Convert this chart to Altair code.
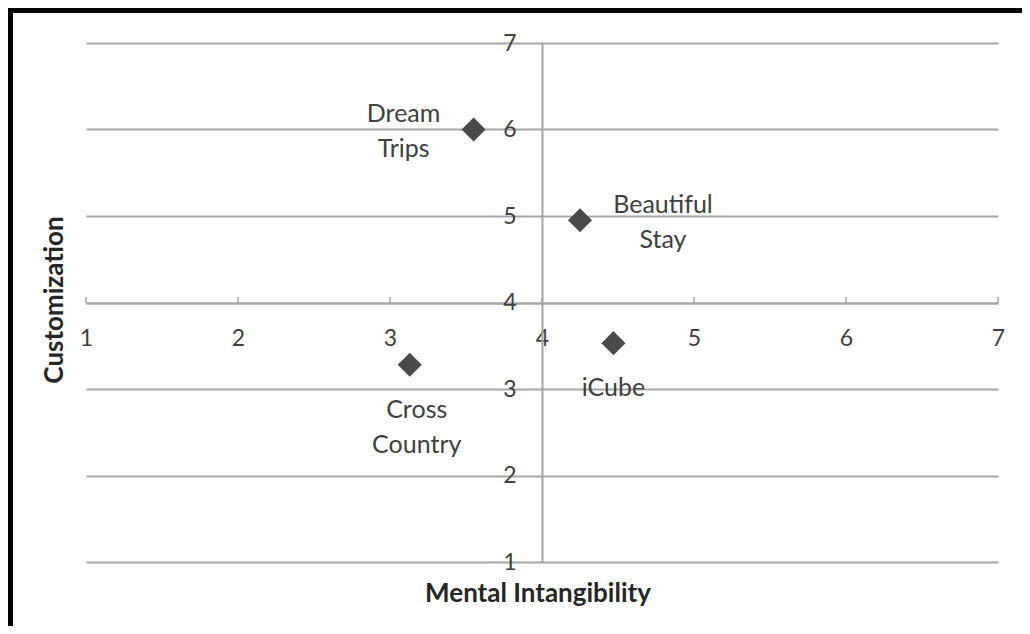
import altair as alt
import pandas as pd

# ---- data ----
names = ["Dream\nTrips", "Beautiful\nStay", "iCube", "Cross\nCountry"]
mental = [3.55, 4.25, 4.47, 3.13]
custom = [6.0, 4.95, 3.53, 3.28]
x_ticks = [1, 2, 3, 4, 5, 6, 7]
y_ticks = [1, 2, 3, 4, 5, 6, 7]
x_title = "Mental Intangibility"
y_title = "Customization"

# label placement (styling offsets, in pixels; dy is to the first line)
label_dx = [-70, 83, 0, 7]
label_dy = [-16, -15, 45, 45]

df = pd.DataFrame({"name": names, "mental": mental, "custom": custom})

W, H = 912, 519
FONT = "Lato"
GRID = "#a6a6a6"

xs = alt.Scale(domain=[1, 7], nice=False, zero=False)
ys = alt.Scale(domain=[1, 7], nice=False, zero=False)

x_axis = alt.Axis(
    values=x_ticks, format="d", orient="bottom", offset=-259, grid=False,
    ticks=False, domain=True, domainColor=GRID, domainWidth=2, labelPadding=24,
    labelFontSize=23, labelColor="#404040", labelFont=FONT, title=None,
    labelFlush=False, labelOverlap=False,
)
y_axis = alt.Axis(
    values=y_ticks, format="d", orient="left", offset=-456, grid=True,
    gridColor=GRID, gridWidth=2, gridOpacity=1, ticks=False, domain=True,
    domainColor=GRID, domainWidth=2, labelPadding=26, labelFontSize=23,
    labelColor="#404040", labelFont=FONT, title=None,
    labelFlush=False, labelOverlap=False,
)

points = alt.Chart(df).mark_point(
    shape="diamond", filled=True, size=580, color="#4a4a4a", opacity=1
).encode(
    x=alt.X("mental:Q", scale=xs, axis=x_axis, title=None),
    y=alt.Y("custom:Q", scale=ys, axis=y_axis, title=None),
)

labels = []
for i, nm in enumerate(names):
    sub = pd.DataFrame({"name": [nm], "mental": [mental[i]], "custom": [custom[i]]})
    labels.append(
        alt.Chart(sub).mark_text(
            lineBreak="\n", font=FONT, fontSize=25, color="#404040",
            lineHeight=35, dx=label_dx[i], dy=label_dy[i], baseline="middle",
            align="center",
        ).encode(
            x=alt.X("mental:Q", scale=xs, title=None),
            y=alt.Y("custom:Q", scale=ys, title=None),
            text="name:N",
        )
    )

tick_marks = alt.Chart(pd.DataFrame({"t": x_ticks})).mark_rule(
    color=GRID, strokeWidth=1.5
).encode(
    x=alt.X("t:Q", scale=xs, title=None),
    y=alt.value(260), y2=alt.value(254),
)

xt = alt.Chart(pd.DataFrame({"t": [x_title]})).mark_text(
    font=FONT, fontSize=26, fontWeight="bold", color="#262626"
).encode(x=alt.value(452), y=alt.value(551), text="t:N")

yt = alt.Chart(pd.DataFrame({"t": [y_title]})).mark_text(
    font=FONT, fontSize=26, fontWeight="bold", color="#262626", angle=270
).encode(x=alt.value(-31), y=alt.value(257), text="t:N")

border_left = alt.Chart(pd.DataFrame({"a": [0]})).mark_rule(
    color="black", strokeWidth=6
).encode(x=alt.value(-76), y=alt.value(-36), y2=alt.value(600))
border_top = alt.Chart(pd.DataFrame({"a": [0]})).mark_rule(
    color="black", strokeWidth=6
).encode(y=alt.value(-33), x=alt.value(-79), x2=alt.value(940))

chart = alt.layer(
    tick_marks, points, *labels, xt, yt, border_left, border_top
).properties(
    width=W, height=H,
    autosize=alt.AutoSizeParams(type="none"),
    padding={"left": 78, "top": 35, "right": 24, "bottom": 64},
    background="white",
).configure_view(stroke=None)

chart.save("out.html", embed_options={"renderer": "svg", "actions": False})
